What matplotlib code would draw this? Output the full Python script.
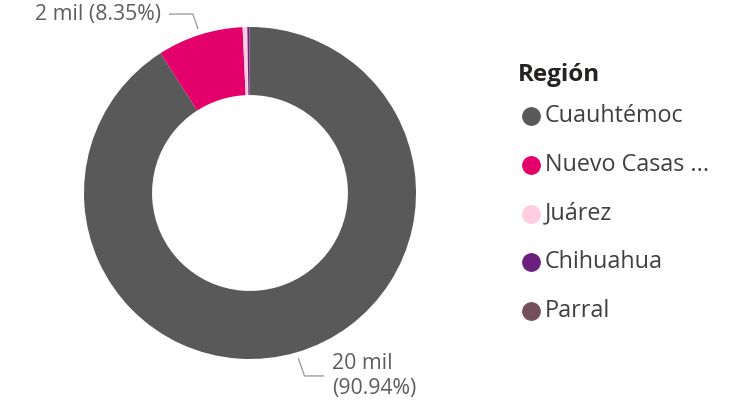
import numpy as np
import matplotlib
matplotlib.use("Agg")
import matplotlib.pyplot as plt

categories = ["Cuauhtémoc", "Nuevo Casas ...", "Juárez", "Chihuahua", "Parral"]
values = [20007, 1837, 99, 44, 13]
colors = ["#595959", "#E3006B", "#FFCCE0", "#6B1F7E", "#744F5C"]
label_texts = {0: "20 mil\n(90.94%)", 1: "2 mil (8.35%)"}
legend_title = "Región"

W, H = 739, 405
fig = plt.figure(figsize=(W / 100, H / 100), dpi=100)
plt.rcParams['font.family'] = ['Open Sans', 'DejaVu Sans']

cx, cy, R = 250, 193, 166
ax = fig.add_axes([(cx - R) / W, 1 - (cy + R) / H, 2 * R / W, 2 * R / H])
wedges, _ = ax.pie(values, colors=colors, startangle=90, counterclock=False,
                   wedgeprops=dict(width=0.41, edgecolor="none"))
ax.set_xlim(-1, 1)
ax.set_ylim(-1, 1)
ax.set_aspect("equal")
ax.axis("off")

lc = "#A0A0A0"
tc = "#605E5C"
for i, txt in label_texts.items():
    w = wedges[i]
    ang = np.deg2rad((w.theta1 + w.theta2) / 2)
    x0, y0 = 1.04 * np.cos(ang), 1.04 * np.sin(ang)
    if np.cos(ang) < 0:
        x1, y1 = x0 - 0.03, 1.078
        x2 = x1 - 0.14
        ax.plot([x0, x1, x2], [y0, y1, y1], color=lc, lw=1, clip_on=False)
        ax.text(x2 - 0.05, y1, txt, ha="right", va="center", fontsize=15.3,
                color=tc, clip_on=False)
    else:
        x1, y1 = x0 + 0.036, -1.102
        x2 = x1 + 0.115
        ax.plot([x0, x1, x2], [y0, y1, y1], color=lc, lw=1, clip_on=False)
        ax.text(x2 + 0.05, y1, txt, ha="left", va="center", fontsize=15.3,
                color=tc, linespacing=1.3, clip_on=False)

lax = fig.add_axes([0, 0, 1, 1])
lax.set_xlim(0, W)
lax.set_ylim(H, 0)
lax.axis("off")
lax.text(518, 75, legend_title, ha="left", va="center", fontsize=17.5,
         fontweight="bold", color="#252423")
for i, (name, col) in enumerate(zip(categories, colors)):
    y = 116 + 48.8 * i
    lax.plot([531], [y], marker="o", markersize=12.5, color=col, linestyle="none")
    lax.text(545, y, name, ha="left", va="center", fontsize=16.8, color="#404040")

fig.savefig("out.png", dpi=100)
